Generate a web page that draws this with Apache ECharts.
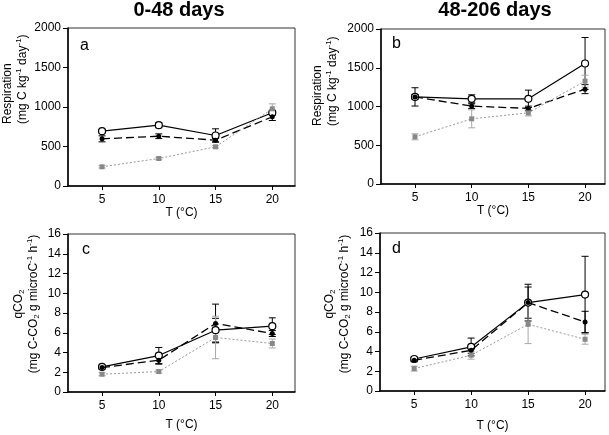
<!DOCTYPE html>
<html>
<head>
<meta charset="utf-8">
<script src="https://cdn.jsdelivr.net/npm/echarts@6/dist/echarts.min.js"></script>
<style>
  html, body { margin: 0; padding: 0; background: #fff; }
  #chart { width: 609px; height: 435px; }
</style>
</head>
<body>
<div id="chart"></div>
<script>
// temperatures (x) and tick values
var temps = [5, 10, 15, 20];
var xTicks = [5, 10, 15, 20];

// a: respiration 0-48 days (mg C kg-1 day-1)
var respA_open = [694, 770, 639, 927];
var respA_openErr = [20, 32, 85, 30];
var respA_dash = [597, 630, 580, 876];
var respA_dashErr = [38, 30, 20, 47];
var respA_gray = [243, 348, 496, 977];
var respA_grayErr = [15, 15, 15, 63];

// b: respiration 48-206 days
var respB_open = [1124, 1099, 1099, 1555];
var respB_openErr = [118, 52, 112, 335];
var respB_dash = [1124, 1005, 975, 1224];
var respB_dashErr = [30, 30, 30, 58];
var respB_gray = [609, 841, 918, 1327];
var respB_grayErr = [39, 116, 40, 77];

// c: qCO2 0-48 days
var qco2C_open = [2.54, 3.69, 6.26, 6.67];
var qco2C_openErr = [0.15, 0.82, 1.2, 0.84];
var qco2C_dash = [2.47, 3.22, 6.94, 5.92];
var qco2C_dashErr = [0.15, 0.4, 1.96, 0.3];
var qco2C_gray = [1.8, 2.07, 5.52, 4.91];
var qco2C_grayErr = [0.15, 0.15, 2.15, 0.45];

// d: qCO2 48-206 days
var qco2D_open = [3.24, 4.46, 8.95, 9.76];
var qco2D_openErr = [0.2, 0.9, 1.86, 3.88];
var qco2D_dash = [3.11, 4.12, 8.95, 6.99];
var qco2D_dashErr = [0.15, 0.3, 1.58, 1.08];
var qco2D_gray = [2.27, 3.62, 6.75, 5.24];
var qco2D_grayErr = [0.25, 0.4, 1.95, 0.5];

var FONT = 'Liberation Sans, Arial, sans-serif';

var myChart = echarts.init(document.getElementById('chart'));

function errBar(color) {
    return function (params, api) {
        var lo = api.coord([api.value(0), api.value(1)]);
        var hi = api.coord([api.value(0), api.value(2)]);
        var w = 3.5;
        var st = { stroke: color, lineWidth: 1 };
        return {
            type: 'group',
            children: [
                { type: 'line', shape: { x1: lo[0], y1: lo[1], x2: hi[0], y2: hi[1] }, style: st },
                { type: 'line', shape: { x1: lo[0] - w, y1: lo[1], x2: lo[0] + w, y2: lo[1] }, style: st },
                { type: 'line', shape: { x1: hi[0] - w, y1: hi[1], x2: hi[0] + w, y2: hi[1] }, style: st }
            ]
        };
    };
}

function pts(vals) {
    return temps.map(function (t, i) { return [t, vals[i]]; });
}
function errs(vals, e) {
    return temps.map(function (t, i) { return [t, vals[i] - e[i], vals[i] + e[i]]; });
}

function panelSeries(idx, open, openErr, dash, dashErr, gray, grayErr) {
    return [
        { type: 'custom', xAxisIndex: idx, yAxisIndex: idx, z: 2, silent: true,
          renderItem: errBar('#000'), data: errs(open, openErr) },
        { type: 'custom', xAxisIndex: idx, yAxisIndex: idx, z: 2, silent: true,
          renderItem: errBar('#000'), data: errs(dash, dashErr) },
        { type: 'custom', xAxisIndex: idx, yAxisIndex: idx, z: 2, silent: true,
          renderItem: errBar('#a8a8a8'), data: errs(gray, grayErr) },
        { type: 'line', xAxisIndex: idx, yAxisIndex: idx, z: 3, data: pts(open),
          symbol: 'circle', symbolSize: 7, showAllSymbol: true,
          lineStyle: { color: '#000', width: 1.2 },
          itemStyle: { color: '#fff', borderColor: '#000', borderWidth: 1.2 } },
        { type: 'line', xAxisIndex: idx, yAxisIndex: idx, z: 4, data: pts(dash),
          symbol: 'circle', symbolSize: 5, showAllSymbol: true,
          lineStyle: { color: '#000', width: 1.3, type: [8, 4] },
          itemStyle: { color: '#000', borderWidth: 0 } },
        { type: 'line', xAxisIndex: idx, yAxisIndex: idx, z: 5, data: pts(gray),
          symbol: 'rect', symbolSize: 5, showAllSymbol: true,
          lineStyle: { color: '#999', width: 1, type: [2, 2] },
          itemStyle: { color: '#888', borderWidth: 0 } }
    ];
}

function xAxis(idx, max, gap) {
    return {
        type: 'value', gridIndex: idx, min: 2, max: max,
        name: 'T (°C)', nameLocation: 'middle', nameGap: gap,
        nameTextStyle: { fontSize: 12, color: '#000', fontFamily: FONT },
        axisLine: { lineStyle: { color: '#000', width: 1.5 } },
        axisTick: { length: 4, customValues: xTicks, lineStyle: { color: '#000' } },
        axisLabel: { customValues: xTicks, fontSize: 12, color: '#000', margin: 8, fontFamily: FONT },
        splitLine: { show: false }
    };
}

function yAxis(idx, max, interval) {
    return {
        type: 'value', gridIndex: idx, min: 0, max: max, interval: interval,
        axisLine: { show: true, lineStyle: { color: '#000', width: 1.5 } },
        axisTick: { show: true, length: 5, lineStyle: { color: '#000' } },
        axisLabel: { fontSize: 12, color: '#000', margin: 7, fontFamily: FONT,
                     formatter: function (v) { return String(v); } },
        splitLine: { show: false }
    };
}

var rich = {
    t: { fontSize: 12, lineHeight: 15, fontFamily: FONT, fill: '#000' },
    s: { fontSize: 8, lineHeight: 8, fontFamily: FONT, fill: '#000', verticalAlign: 'top' },
    b: { fontSize: 8, lineHeight: 8, fontFamily: FONT, fill: '#000', verticalAlign: 'bottom' }
};

var respName = '{t|Respiration}\n{t|(mg C kg}{s|-1}{t| day}{s|-1}{t|)}';
var qName = '{t|qCO}{b|2}\n{t|(mg C-CO}{b|2}{t| g microC}{s|-1}{t| h}{s|-1}{t|)}';

function vText(text, x, y, align) {
    return {
        type: 'text', x: x, y: y, rotation: Math.PI / 2, silent: true,
        style: { text: text, rich: rich, align: align, verticalAlign: 'middle' }
    };
}
function plainText(text, x, y, font, align) {
    return {
        type: 'text', x: x, y: y, silent: true,
        style: { text: text, font: font, fill: '#000', align: align, verticalAlign: 'middle' }
    };
}

option = {
    animation: false,
    backgroundColor: '#fff',
    grid: [
        { left: 68, top: 28, width: 227, height: 158, show: true, borderColor: '#333', borderWidth: 1 },
        { left: 381, top: 29, width: 224, height: 155, show: true, borderColor: '#333', borderWidth: 1 },
        { left: 68, top: 234, width: 227, height: 158, show: true, borderColor: '#333', borderWidth: 1 },
        { left: 380, top: 233, width: 225, height: 158, show: true, borderColor: '#333', borderWidth: 1 }
    ],
    xAxis: [xAxis(0, 22, 20), xAxis(1, 21.76, 21), xAxis(2, 22, 27), xAxis(3, 21.75, 29)],
    yAxis: [yAxis(0, 2000, 500), yAxis(1, 2000, 500), yAxis(2, 16, 2), yAxis(3, 16, 2)],
    graphic: [
        plainText('0-48 days', 179, 10, 'bold 20px ' + FONT, 'center'),
        plainText('48-206 days', 495, 10, 'bold 20px ' + FONT, 'center'),
        plainText('a', 80, 46, '16px ' + FONT, 'left'),
        plainText('b', 392, 44, '16px ' + FONT, 'left'),
        plainText('c', 82, 250, '16px ' + FONT, 'left'),
        plainText('d', 392, 249, '16px ' + FONT, 'left'),
        vText(respName, 15, 124, 'left'),
        vText(respName, 325, 126, 'left'),
        vText(qName, 26, 304, 'center'),
        vText(qName, 337, 304, 'center')
    ],
    series: []
        .concat(panelSeries(0, respA_open, respA_openErr, respA_dash, respA_dashErr, respA_gray, respA_grayErr))
        .concat(panelSeries(1, respB_open, respB_openErr, respB_dash, respB_dashErr, respB_gray, respB_grayErr))
        .concat(panelSeries(2, qco2C_open, qco2C_openErr, qco2C_dash, qco2C_dashErr, qco2C_gray, qco2C_grayErr))
        .concat(panelSeries(3, qco2D_open, qco2D_openErr, qco2D_dash, qco2D_dashErr, qco2D_gray, qco2D_grayErr))
};

myChart.setOption(option);
</script>
</body>
</html>
